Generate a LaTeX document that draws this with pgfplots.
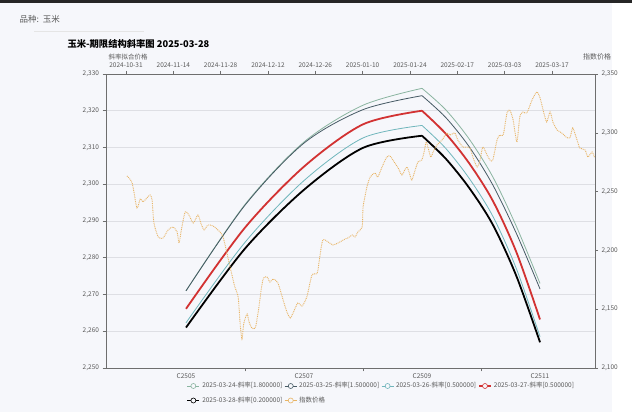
\documentclass[border=0pt]{standalone}
\usepackage{pgfplots}
\pgfplotsset{compat=1.18}
\usepackage{fontspec}
\setmainfont{Noto Sans CJK SC}

\definecolor{bgc}{RGB}{246,247,251}
\definecolor{cgreen}{RGB}{138,180,160}
\definecolor{cslate}{RGB}{70,90,100}
\definecolor{ccyan}{RGB}{112,182,188}
\definecolor{cred}{RGB}{210,50,50}
\definecolor{corange}{RGB}{232,180,100}
\definecolor{gridc}{RGB}{222,223,228}
\definecolor{axc}{RGB}{110,110,110}
\definecolor{labc}{RGB}{90,90,90}

\pgfplotsset{
  common/.style={
    at={(106pt,44pt)}, anchor=south west,
    width=489pt, height=294pt, scale only axis,
    axis line style={-, axc, line width=0.6pt},
    tick align=outside, major tick length=3.5pt,
    tick style={axc, line width=0.5pt},
    tick label style={font=\fontsize{6.5}{7}\selectfont, text=labc},
    scaled y ticks=false,
    yticklabel style={/pgf/number format/.cd, fixed, 1000 sep={,}, assume math mode=true},
  }
}

\begin{document}
\begin{tikzpicture}[x=1pt,y=1pt]
\fill[white] (0,0) rectangle (632,412);
\fill[bgc] (0,0) rectangle (612,409);
\fill[black!85] (0,409) rectangle (632,412);

\node[anchor=west, font=\fontsize{8.5}{9}\selectfont, text=labc] at (16,393) {品种:\hspace{4pt}玉米};
\draw[gray!20, line width=0.6pt] (34,381) -- (144,381);
\node[anchor=west, font=\bfseries\fontsize{9.3}{11}\selectfont] at (64,368) {玉米-期限结构斜率图 2025-03-28};
\node[font=\fontsize{6.5}{7}\selectfont, text=labc] at (128,355) {斜率拟合价格};
\node[font=\fontsize{7}{8}\selectfont, text=labc] at (597,355) {指数价格};

% term-structure curves (left and bottom axes)
\begin{axis}[common,
  xmin=-0.678, xmax=3.466, ymin=2250, ymax=2330,
  axis x line*=bottom, axis y line*=left,
  ytick={2250,2260,...,2330},
  ymajorgrids, grid style={gridc, line width=0.6pt},
  xtick={0,1,2,3}, xticklabels={C2505,C2507,C2509,C2511},
  major x tick style={draw=none},
  minor xtick={0.5,1.5,2.5}, minor tick length=3.5pt,
  minor x tick style={axc, line width=0.5pt},
  xticklabel style={yshift=1pt},
  legend columns=4,
  legend cell align=left,
  legend style={draw=none, fill=none, font=\fontsize{6.5}{7}\selectfont, text=labc,
    at={(0.158,-0.035)}, anchor=north west, row sep=3.5pt,
    /tikz/every even column/.append style={column sep=0pt}},
  legend image code/.code={
    \draw[#1] (0pt,0pt) -- (12pt,0pt);
    \draw[#1, solid, line width=0.6pt, fill=bgc] (6pt,0pt) circle (2.5pt);
  },
]
\addplot[cgreen, line width=0.8pt, smooth] coordinates {(0,2271) (0.5,2294.5) (1,2311.5) (1.5,2321.5) (2,2326.1)};
\addlegendentry{2025-03-24-斜率[1.800000]}
\addplot[cslate, line width=0.8pt, smooth] coordinates {(0,2271) (0.5,2294.3) (1,2311.2) (1.5,2320.3) (2,2324.1)};
\addlegendentry{2025-03-25-斜率[1.500000]}
\addplot[ccyan, line width=0.8pt, smooth] coordinates {(0,2262.3) (0.5,2284.2) (1,2301.0) (1.5,2312.6) (2,2316.0)};
\addlegendentry{2025-03-26-斜率[0.500000]}
\addplot[cred, line width=1.8pt, smooth] coordinates {(0,2266.1) (0.5,2288.2) (1,2304.8) (1.5,2316.3) (2,2320.0)};
\addlegendentry{2025-03-27-斜率[0.500000]}
\addplot[black, line width=1.8pt, smooth] coordinates {(0,2261.0) (0.5,2282.5) (1,2298.5) (1.5,2309.9) (2,2313.2)};
\addlegendentry{2025-03-28-斜率[0.200000]}
\addlegendimage{corange, line width=0.8pt}
\addlegendentry{指数价格}

\addplot[cgreen, line width=0.8pt, smooth, forget plot] coordinates {(2,2326.1) (2.2,2320.3) (2.4,2312.3) (2.6,2302.0) (2.8,2288.5) (3,2273.0)};
\addplot[cslate, line width=0.8pt, smooth, forget plot] coordinates {(2,2324.1) (2.2,2318.2) (2.4,2310.2) (2.6,2299.8) (2.8,2286.6) (3,2271.5)};
\addplot[ccyan, line width=0.8pt, smooth, forget plot] coordinates {(2,2316.0) (2.2,2309.8) (2.4,2301.6) (2.6,2291.3) (2.8,2277.0) (3,2258.5)};
\addplot[cred, line width=1.8pt, smooth, forget plot] coordinates {(2,2320.0) (2.2,2313.8) (2.4,2305.7) (2.6,2295.5) (2.8,2281.5) (3,2263.2)};
\addplot[black, line width=1.8pt, smooth, forget plot] coordinates {(2,2313.2) (2.2,2307.0) (2.4,2299.0) (2.6,2289.0) (2.8,2275.0) (3,2257.0)};
\end{axis}

% index price (right and top axes)
\begin{axis}[common,
  xmin=-4.23, xmax=99.1, ymin=2100, ymax=2350,
  axis x line*=top, axis y line*=right,
  ytick={2100,2150,...,2350},
  xtick={0,10,...,90},
  xticklabels={2024-10-31,2024-11-14,2024-11-28,2024-12-12,2024-12-26,2025-01-10,2025-01-24,2025-02-17,2025-03-03,2025-03-17},
  major tick length=3pt,
]
\addplot[corange, line width=0.9pt, dash pattern=on 0.9pt off 0.9pt, smooth, tension=0.4] coordinates {
(0.2,2263.3) (1.3,2257.3) (2.3,2236.1) (3.0,2243.7) (3.6,2241.2) (4.4,2244.6) (5.1,2247.1) (5.5,2242.9)
(5.9,2223.3) (6.8,2211.4) (7.8,2210.5) (8.9,2217.4) (9.9,2219.9) (10.8,2215.7) (11.2,2206.3) (11.8,2219.9)
(12.5,2232.7) (13.3,2230.1) (14.2,2223.3) (15.2,2230.1) (15.8,2223.3) (16.5,2217.4) (17.3,2221.6) (18.4,2220.8)
(19.4,2217.4) (20.5,2211.4) (22.0,2185.9) (23.0,2168.9) (23.7,2160.4) (24.1,2138.3) (24.5,2124.7) (24.9,2138.3)
(25.6,2145.9) (26.0,2139.1) (26.6,2134.0) (27.3,2134.0) (27.9,2146.8) (28.9,2174.8) (29.8,2177.4) (30.4,2173.1)
(31.1,2175.7) (32.1,2172.3) (33.2,2157.8) (34.0,2147.6) (34.7,2142.5) (35.3,2146.8) (36.3,2155.3) (37.2,2152.7)
(38.2,2160.4) (39.3,2179.1) (40.4,2180.8) (41.0,2196.1) (41.6,2208.9) (42.7,2207.2) (43.7,2204.6) (44.8,2206.3)
(46.3,2209.7) (46.9,2210.6) (47.8,2213.1) (48.4,2211.4) (49.0,2215.7) (49.9,2219.9) (50.1,2236.9) (50.9,2253.9)
(51.6,2262.4) (52.6,2265.8) (53.2,2262.4) (54.1,2270.9) (55.1,2279.4) (55.8,2280.3) (56.4,2276.9) (57.5,2270.1)
(58.3,2264.1) (58.9,2268.4) (59.4,2270.9) (60.0,2264.1) (60.4,2259.9) (61.1,2268.4) (61.7,2275.2) (62.5,2276.9)
(63.0,2283.7) (63.4,2292.2) (63.8,2287.9) (64.4,2279.4) (64.9,2283.7) (65.7,2289.6) (66.8,2293.9) (67.8,2299.8)
(68.5,2298.1) (69.5,2299.8) (70.1,2293.9) (71.2,2287.9) (72.0,2287.9) (72.7,2287.1) (73.3,2279.4) (74.2,2270.9)
(74.8,2276.9) (75.4,2287.9) (76.3,2281.1) (76.9,2276.9) (77.5,2276.9) (78.4,2293.9) (79.0,2298.1) (79.7,2298.1)
(80.5,2316.8) (81.1,2319.4) (81.8,2310.9) (82.6,2292.2) (83.2,2313.4) (83.9,2317.7) (84.7,2316.8) (85.8,2327.9)
(86.8,2334.7) (87.5,2329.6) (88.3,2316.8) (88.9,2309.2) (89.6,2317.7) (90.2,2309.2) (91.1,2302.4) (92.1,2299.8)
(93.0,2296.4) (93.8,2295.6) (94.4,2304.1) (95.3,2293.9) (95.9,2287.1) (97.0,2285.4) (97.6,2279.4) (98.5,2283.7)
(99.0,2279.0)
};
\end{axis}
\end{tikzpicture}
\end{document}
